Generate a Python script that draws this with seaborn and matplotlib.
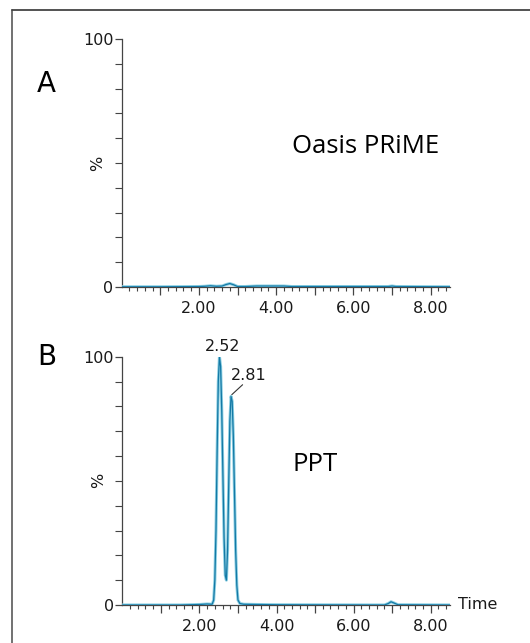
import numpy as np
import pandas as pd
import matplotlib
matplotlib.use("Agg")
import matplotlib.pyplot as plt
from matplotlib.ticker import MultipleLocator, FixedLocator, NullFormatter
import seaborn as sns

# Данные хроматограмм
time_a = [0.0, 1.0, 2.0, 2.15, 2.3, 2.45, 2.6, 2.7, 2.8, 2.9, 3.0, 3.2,
          3.5, 3.8, 4.2, 4.4, 5.5, 6.9, 7.0, 7.1, 8.5]
signal_a = [0.0, 0.0, 0.1, 0.2, 0.4, 0.2, 0.3, 0.9, 1.3, 0.8, 0.1, 0.1,
            0.3, 0.3, 0.3, 0.1, 0.1, 0.1, 0.3, 0.1, 0.0]

time_b = [0.0, 1.5, 2.0, 2.2, 2.33, 2.37, 2.40, 2.43, 2.46, 2.49, 2.52,
          2.55, 2.58, 2.61, 2.64, 2.67, 2.70, 2.73, 2.76, 2.79, 2.82, 2.85,
          2.88, 2.91, 2.94, 2.97, 3.00, 3.05, 3.15, 3.5, 4.0, 6.8, 6.9,
          6.97, 7.05, 7.15, 8.5]
signal_b = [0.0, 0.0, 0.2, 0.4, 0.3, 2, 10, 30, 62, 90, 100,
            96, 78, 52, 27, 12, 10, 22, 48, 74, 84, 82,
            68, 45, 22, 8, 2, 0.6, 0.3, 0.2, 0.1, 0.0, 0.6,
            1.3, 0.8, 0.1, 0.0]

panel_labels = ["A", "B"]
sample_names = ["Oasis PRiME", "PPT"]
peak_times = [2.52, 2.81]
x_tick_labels = ["2.00", "4.00", "6.00", "8.00"]

sns.set_style("ticks")
plt.rcParams['font.family'] = ['DejaVu Sans']

fig = plt.figure(figsize=(5.30, 6.43), dpi=100)
ax_a = fig.add_axes([0.2296, 0.554, 0.6194, 0.385])
ax_b = fig.add_axes([0.2308, 0.0591, 0.6182, 0.3862])

light_col = '#8ccfe2'
dark_col = '#1479a6'
tick_col = '#444444'
text_col = '#1a1a1a'


def draw_panel(ax, t, s, label, name, label_y):
    df = pd.DataFrame({'time': t, 'signal': s})
    sns.lineplot(data=df, x='time', y='signal', ax=ax, color=light_col,
                 linewidth=2.2, zorder=3)
    sns.lineplot(data=df, x='time', y='signal', ax=ax, color=dark_col,
                 linewidth=0.9, zorder=4)
    ax.set_xlim(0.0, 8.5)
    ax.set_ylim(0, 100)
    sns.despine(ax=ax)
    for side in ['left', 'bottom']:
        ax.spines[side].set_color(tick_col)
        ax.spines[side].set_linewidth(0.9)
    ax.xaxis.set_major_locator(FixedLocator([1, 2, 3, 4, 5, 6, 7, 8]))
    ax.xaxis.set_minor_locator(FixedLocator(np.round(np.arange(0.2, 8.5, 0.2), 1)))
    ax.set_xticklabels(['', x_tick_labels[0], '', x_tick_labels[1], '',
                        x_tick_labels[2], '', x_tick_labels[3]])
    ax.yaxis.set_major_locator(FixedLocator([0, 100]))
    ax.yaxis.set_minor_locator(MultipleLocator(10))
    ax.yaxis.set_minor_formatter(NullFormatter())
    ax.set_yticklabels(['0', '100'])
    ax.tick_params(axis='x', which='major', length=6, width=0.9, color=tick_col,
                   labelsize=11.5, labelcolor=text_col, pad=4)
    ax.tick_params(axis='x', which='minor', length=3, width=0.8, color=tick_col)
    ax.tick_params(axis='y', which='major', length=5, width=0.9, color=tick_col,
                   labelsize=11.5, labelcolor=text_col, pad=1)
    ax.tick_params(axis='y', which='minor', length=5, width=0.8, color=tick_col)
    ax.set_xlabel('')
    ax.set_ylabel('')
    ax.text(-0.072, 0.5, '%', transform=ax.transAxes, fontsize=11.5,
            rotation=90, ha='center', va='center', color=text_col)
    ax.text(-0.229, label_y, label, transform=ax.transAxes, fontsize=20,
            ha='center', va='center', color='black')
    ax.text(0.52, 0.565, name, transform=ax.transAxes, fontsize=18.5,
            ha='left', va='center', color='black',
            family=['Open Sans', 'DejaVu Sans'])


draw_panel(ax_a, time_a, signal_a, panel_labels[0], sample_names[0], 0.818)
draw_panel(ax_b, time_b, signal_b, panel_labels[1], sample_names[1], 1.0)

# подписи пиков
ax_b.text(2.59, 104, f"{peak_times[0]:.2f}", fontsize=11.5, ha='center',
          va='center', color=text_col, clip_on=False)
ax_b.text(3.29, 92.5, f"{peak_times[1]:.2f}", fontsize=11.5, ha='center',
          va='center', color=text_col, clip_on=False)
ax_b.plot([2.84, 3.12], [84.7, 88.7], color='#333333', linewidth=0.8)
ax_b.text(1.025, 0.0, 'Time', transform=ax_b.transAxes, fontsize=11.5,
          ha='left', va='center', color=text_col)

# рамка слева и сверху
fig.add_artist(plt.Line2D([12 / 530, 12 / 530], [0, 1 - 10 / 643],
                          transform=fig.transFigure, color='#666666', linewidth=1.3))
fig.add_artist(plt.Line2D([12 / 530, 1], [1 - 10 / 643, 1 - 10 / 643],
                          transform=fig.transFigure, color='#444444', linewidth=1.3))

fig.savefig('out.png', dpi=100, facecolor='white')
